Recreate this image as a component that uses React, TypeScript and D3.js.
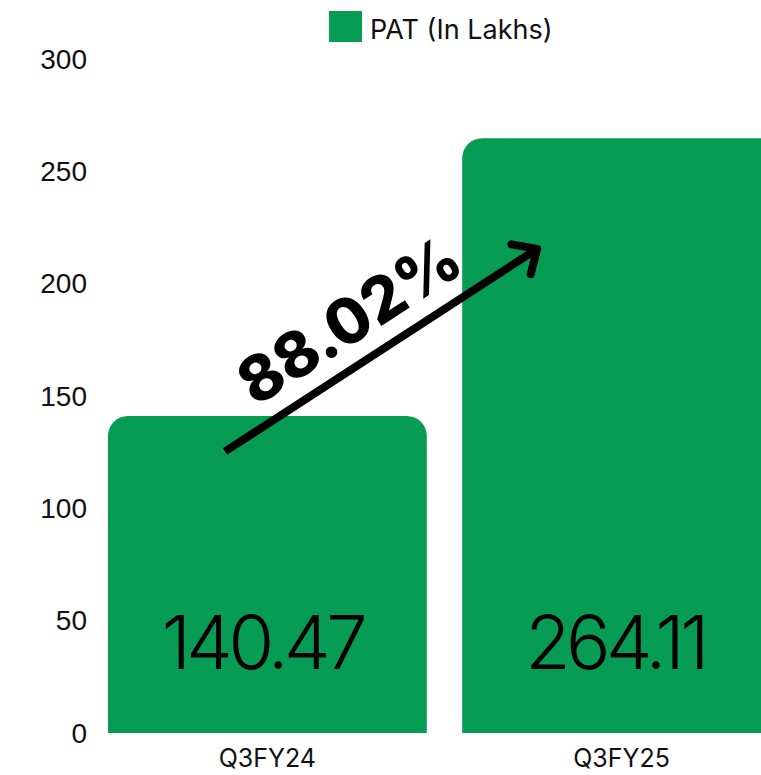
import React from "react";
import * as d3 from "d3";

const categories = ["Q3FY24", "Q3FY25"];
const patValues = [140.47, 264.11];
const valueLabels = ["140.47", "264.11"];
const yTicks = [0, 50, 100, 150, 200, 250, 300];
const legendLabel = "PAT (In Lakhs)";
const growthLabel = "88.02%";

const W = 761;
const H = 775;
const GREEN = "#079c53";

export default function App() {
  const y = d3.scaleLinear().domain([0, 300]).range([733, 59]);
  const x = d3
    .scaleBand<string>()
    .domain(categories)
    .range([108, 781])
    .paddingInner(0.1)
    .paddingOuter(0);
  const bw = x.bandwidth();
  const r = 20;

  const barPath = (cat: string, v: number) => {
    const x0 = x(cat)!;
    const x1 = x0 + bw;
    const yt = y(v) - 1.5;
    const yb = y(0);
    const p = d3.path();
    p.moveTo(x0, yb);
    p.lineTo(x0, yt + r);
    p.arcTo(x0, yt, x0 + r, yt, r);
    p.lineTo(x1 - r, yt);
    p.arcTo(x1, yt, x1, yt + r, r);
    p.lineTo(x1, yb);
    p.closePath();
    return p.toString();
  };

  // arrow annotation anchored to the scales
  const ax0 = x(categories[0])! + bw * 0.367;
  const ay0 = y(125.3);
  const ax1 = x(categories[1])! + bw * 0.235;
  const ay1 = y(215.5);
  const ang = Math.atan2(ay1 - ay0, ax1 - ax0);
  const head = 26;
  const h1 = [ax1 - head * Math.cos(ang - Math.PI / 4.2), ay1 - head * Math.sin(ang - Math.PI / 4.2)];
  const h2 = [ax1 - head * Math.cos(ang + Math.PI / 4.2), ay1 - head * Math.sin(ang + Math.PI / 4.2)];
  const angDeg = (ang * 180) / Math.PI;

  const tx = x(categories[0])! + bw * 0.755;
  const ty = y(184);

  return (
    <svg width={W} height={H} style={{ position: "absolute", left: 0, top: 0, background: "#fff" }}>
      {/* legend */}
      <rect x={329} y={11} width={33} height={31} fill={GREEN} />
      <text x={370} y={29} dominantBaseline="central" fontFamily="Inter, 'Noto Sans', sans-serif" fontSize={27} fill="#111">
        {legendLabel}
      </text>

      {/* y axis labels */}
      {yTicks.map((t) => (
        <text
          key={t}
          x={87}
          y={y(t)}
          textAnchor="end"
          dominantBaseline="central"
          fontFamily="'Liberation Sans', Arial, sans-serif"
          fontSize={28}
          fill="#111"
        >
          {t}
        </text>
      ))}

      {/* bars */}
      {categories.map((c, i) => (
        <path key={c} d={barPath(c, patValues[i])} fill={GREEN} />
      ))}

      {/* value labels */}
      {categories.map((c, i) => (
        <text
          key={c}
          x={i === 0 ? x(c)! + bw / 2 - 5 : x(c)! + bw * 0.495 - 5}
          y={y(40.5)}
          textAnchor="middle"
          dominantBaseline="central"
          fontFamily="Inter, 'Noto Sans', sans-serif"
          fontWeight={300}
          fontSize={74}
          letterSpacing={-4.5}
          fill="#000"
        >
          {valueLabels[i]}
        </text>
      ))}

      {/* category labels */}
      {categories.map((c) => (
        <text
          key={c}
          x={x(c)! + bw / 2}
          y={758}
          textAnchor="middle"
          dominantBaseline="central"
          fontFamily="Inter, 'Noto Sans', sans-serif"
          fontSize={25}
          fill="#111"
        >
          {c}
        </text>
      ))}

      {/* arrow */}
      <line x1={ax0} y1={ay0} x2={ax1} y2={ay1} stroke="#000" strokeWidth={8} />
      <polyline
        points={`${h1[0]},${h1[1]} ${ax1},${ay1} ${h2[0]},${h2[1]}`}
        fill="none"
        stroke="#000"
        strokeWidth={8}
        strokeLinecap="round"
        strokeLinejoin="round"
      />

      {/* growth label */}
      <text
        x={tx}
        y={ty}
        transform={`rotate(${angDeg}, ${tx}, ${ty})`}
        textAnchor="middle"
        dominantBaseline="central"
        fontFamily="Inter, 'Noto Sans', sans-serif"
        fontWeight={800}
        fontSize={63}
        fill="#000"
      >
        {growthLabel}
      </text>
    </svg>
  );
}
